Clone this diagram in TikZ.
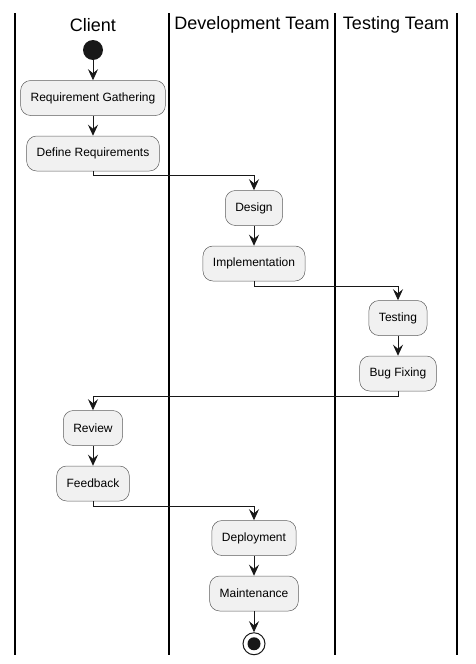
\documentclass[tikz,border=0pt]{standalone}
\usepackage{fontspec}
\setmainfont{Liberation Sans}
\usetikzlibrary{arrows.meta,positioning}
\definecolor{actfill}{HTML}{F1F1F1}
\definecolor{actline}{HTML}{181818}
\tikzset{
  >={Stealth[length=11pt,width=10pt,inset=4pt]},
  act/.style={draw=actline!70, fill=actfill, rounded corners=10pt, line width=0.5pt,
    minimum height=35pt, inner xsep=10pt, font=\fontsize{12}{14}\selectfont},
  flow/.style={->, line width=0.9pt, color=actline},
  laneline/.style={line width=1.4pt},
  lanehead/.style={font=\fontsize{18}{21}\selectfont}
}
\begin{document}
\begin{tikzpicture}[x=1pt, y=-1pt, node distance=20pt]
\useasboundingbox (0,0) rectangle (475,664);
% swimlanes
\foreach \lx in {15,169,335,457}
  \draw[laneline] (\lx,13) -- (\lx,655);
\node[lanehead] (hclient) at (93,25) {Client};
\node[lanehead] (hdev) at (252,25) {Development Team};
\node[lanehead] (htest) at (396,25) {Testing Team};

% client
\node[circle, fill=actline, minimum size=20pt, inner sep=0] (start) at (93,50) {};
\node[act] (reqgather) at (93,98) {Requirement Gathering};
\node[act, below=of reqgather] (defreq) {Define Requirements};
% development
\node[act] (design) at (254,208) {Design};
\node[act, below=of design] (impl) {Implementation};
% testing
\node[act] (testing) at (398,318) {Testing};
\node[act, below=of testing] (bugfix) {Bug Fixing};
% client again
\node[act] (review) at (93,428) {Review};
\node[act, below=of review] (feedback) {Feedback};
% development again
\node[act] (deploy) at (254,538) {Deployment};
\node[act, below=of deploy] (maint) {Maintenance};
\node[circle, draw=actline, fill=white, line width=1pt, minimum size=22pt, inner sep=0,
  path picture={\fill[actline] (path picture bounding box.center) circle (6.5pt);},
  below=21pt of maint] (stop) {};

% flows
\draw[flow] (start) -- (reqgather);
\draw[flow] (reqgather) -- (defreq);
\draw[flow] (defreq.south) -- ++(0,4) -| (design.north);
\draw[flow] (design) -- (impl);
\draw[flow] (impl.south) -- ++(0,5) -| (testing.north);
\draw[flow] (testing) -- (bugfix);
\draw[flow] (bugfix.south) -- ++(0,5) -| (review.north);
\draw[flow] (review) -- (feedback);
\draw[flow] (feedback.south) -- ++(0,5) -| (deploy.north);
\draw[flow] (deploy) -- (maint);
\draw[flow] (maint) -- (stop);
\end{tikzpicture}
\end{document}
